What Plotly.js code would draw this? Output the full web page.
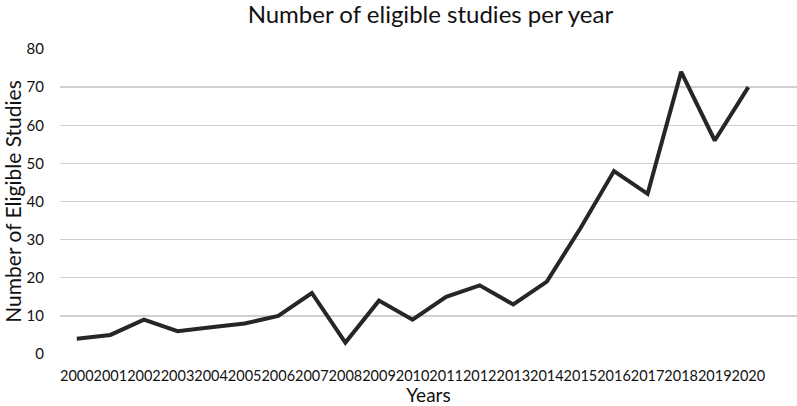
<!DOCTYPE html>
<html>
<head>
<meta charset="utf-8">
<script src="https://cdn.plot.ly/plotly-3.0.1.min.js"></script>
<style>html,body{margin:0;padding:0;background:#fff;}#chart{width:797px;height:406px;}</style>
</head>
<body>
<div id="chart"></div>
<script>
const years = ["2000","2001","2002","2003","2004","2005","2006","2007","2008","2009","2010","2011","2012","2013","2014","2015","2016","2017","2018","2019","2020"];
const studies = [4,5,9,6,7,8,10,16,3,14,9,15,18,13,19,33,48,42,74,56,70];
const yTicks = [0,10,20,30,40,50,60,70,80];

const font = "Lato, 'Open Sans', sans-serif";
Plotly.newPlot('chart', [{
  x: years, y: studies, type: 'scatter', mode: 'lines',
  line: {color: '#262626', width: 4}, hoverinfo: 'x+y'
}], {
  width: 797, height: 406,
  margin: {l: 60, r: 0, t: 49, b: 52},
  paper_bgcolor: '#fff', plot_bgcolor: '#fff',
  title: {text: 'Number of eligible studies per year', font: {family: font, size: 24, color: '#111'}, x: 0.54, xanchor: 'center', y: 0.985, yanchor: 'top'},
  xaxis: {type: 'category', range: [-0.5, 21.45], showgrid: false, zeroline: false, showline: false,
    ticks: 'outside', ticklen: 9, tickcolor: 'rgba(0,0,0,0)', tickangle: 0,
    tickfont: {family: font, size: 14.5, color: '#111'},
    title: {text: 'Years', font: {family: font, size: 19, color: '#111'}, standoff: 0}},
  yaxis: {range: [0, 80], tickvals: yTicks, showgrid: true, gridcolor: '#cfcfcf', gridwidth: 1.3, zeroline: false, showline: false,
    ticks: 'outside', ticklen: 12, tickcolor: 'rgba(0,0,0,0)',
    tickfont: {family: font, size: 15, color: '#111'},
    title: {text: 'Number of Eligible Studies', font: {family: font, size: 21, color: '#111'}, standoff: 2}},
  showlegend: false
}, {displayModeBar: false, staticPlot: true});
</script>
</body>
</html>
